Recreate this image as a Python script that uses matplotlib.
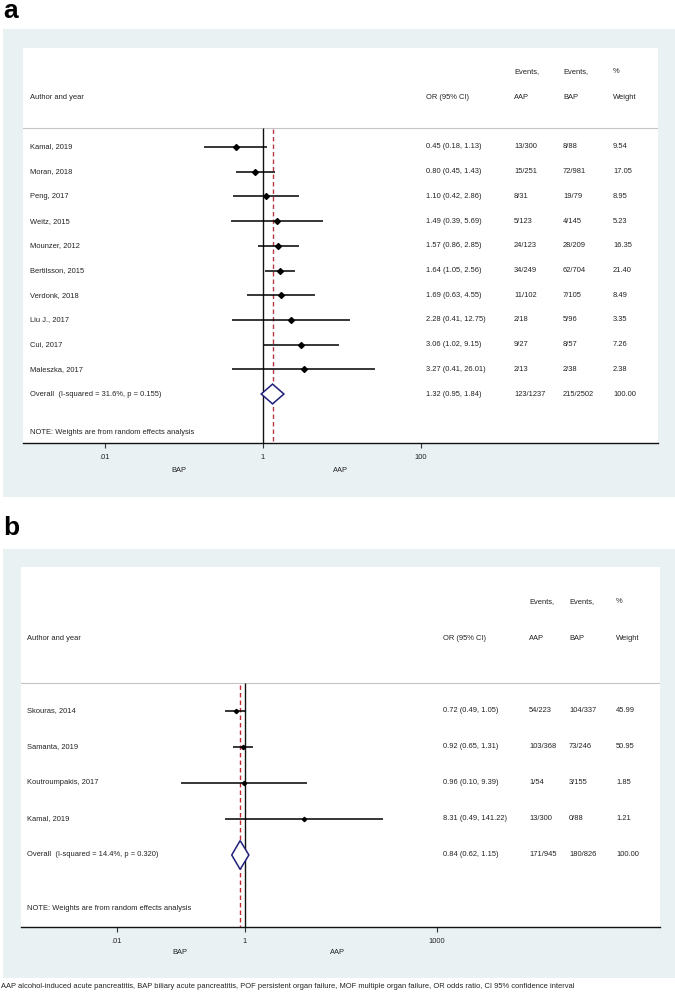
import matplotlib
matplotlib.use("Agg")
import matplotlib.pyplot as plt
import matplotlib.transforms as mtransforms
from matplotlib.patches import Rectangle, Polygon

plt.rcParams['font.family'] = ['Liberation Sans', 'DejaVu Sans']

# ---- panel a data ----
studies_a = ["Kamal, 2019", "Moran, 2018", "Peng, 2017", "Weitz, 2015", "Mounzer, 2012",
             "Bertilsson, 2015", "Verdonk, 2018", "Liu J., 2017", "Cui, 2017", "Maleszka, 2017"]
or_a = [0.45, 0.80, 1.10, 1.49, 1.57, 1.64, 1.69, 2.28, 3.06, 3.27]
lo_a = [0.18, 0.45, 0.42, 0.39, 0.86, 1.05, 0.63, 0.41, 1.02, 0.41]
hi_a = [1.13, 1.43, 2.86, 5.69, 2.85, 2.56, 4.55, 12.75, 9.15, 26.01]
ev_aap_a = ["13/300", "15/251", "8/31", "5/123", "24/123", "34/249", "11/102", "2/18", "9/27", "2/13"]
ev_bap_a = ["8/88", "72/981", "19/79", "4/145", "28/209", "62/704", "7/105", "5/96", "8/57", "2/38"]
weight_a = ["9.54", "17.05", "8.95", "5.23", "16.35", "21.40", "8.49", "3.35", "7.26", "2.38"]
overall_a = (1.32, 0.95, 1.84)
overall_lbl_a = "Overall  (I-squared = 31.6%, p = 0.155)"
overall_ev_a = ("123/1237", "215/2502", "100.00")
ticks_a = [0.01, 1, 100]
ticklbl_a = [".01", "1", "100"]

# ---- panel b data ----
studies_b = ["Skouras, 2014", "Samanta, 2019", "Koutroumpakis, 2017", "Kamal, 2019"]
or_b = [0.72, 0.92, 0.96, 8.31]
lo_b = [0.49, 0.65, 0.10, 0.49]
hi_b = [1.05, 1.31, 9.39, 141.22]
ev_aap_b = ["54/223", "103/368", "1/54", "13/300"]
ev_bap_b = ["104/337", "73/246", "3/155", "0/88"]
weight_b = ["45.99", "50.95", "1.85", "1.21"]
overall_b = (0.84, 0.62, 1.15)
overall_lbl_b = "Overall  (I-squared = 14.4%, p = 0.320)"
overall_ev_b = ("171/945", "180/826", "100.00")
ticks_b = [0.01, 1, 1000]
ticklbl_b = [".01", "1", "1000"]

note = "NOTE: Weights are from random effects analysis"
caption = ("AAP alcohol-induced acute pancreatitis, BAP biliary acute pancreatitis, "
           "POF persistent organ failure, MOF multiple organ failure, OR odds ratio, "
           "CI 95% confidence interval")

W, H = 675, 992
BG = "#e9f1f3"
FS = 5.4
TXT = "#222222"


def fx(px):
    return px / W


def fy(py):
    return 1 - py / H


fig = plt.figure(figsize=(W / 100, H / 100), dpi=100)
fig.patch.set_facecolor("white")


def panel(letter, letter_y, bg, box, one_px, ppd, row0, sp, cols, note_k, bap_aap,
          studies, ors, los, his, ev1, ev2, wts, overall, overall_lbl, overall_ev,
          ticks, ticklbls, red, ms):
    fig.text(fx(3), fy(letter_y), letter, fontsize=19, fontweight="bold",
             ha="left", va="baseline", color="black")
    fig.patches.append(Rectangle((fx(bg[0]), fy(bg[3])), (bg[2] - bg[0]) / W,
                                 (bg[3] - bg[1]) / H, transform=fig.transFigure,
                                 facecolor=BG, edgecolor="none", zorder=-5))
    x0, y0, x1, y1 = box
    ax = fig.add_axes([fx(x0), fy(y1), (x1 - x0) / W, (y1 - y0) / H])
    ax.set_facecolor("white")
    ax.set_xscale("log")
    ax.set_xlim(10 ** ((x0 - one_px) / ppd), 10 ** ((x1 - one_px) / ppd))
    k_top = (y0 - row0) / sp
    k_bot = (y1 - row0) / sp
    ax.set_ylim(k_bot, k_top)
    for s in ["top", "left", "right"]:
        ax.spines[s].set_visible(False)
    ax.spines["bottom"].set_linewidth(1.0)
    ax.spines["bottom"].set_color("#111111")
    ax.set_yticks([])
    ax.set_xticks(ticks)
    ax.set_xticklabels(ticklbls)
    ax.minorticks_off()
    ax.tick_params(axis="x", direction="out", length=3.6, width=0.8, color="#333333",
                   labelsize=FS, labelcolor=TXT, pad=4.5)

    line_k = -0.78
    ax.axhline(line_k, color="#c4c4c4", lw=0.8, zorder=1)
    ax.vlines(1, line_k, k_bot, color="#111111", lw=1.0, zorder=2)
    ax.vlines(overall[0], line_k + 0.05, k_bot, color=red, lw=1.0,
              linestyles=(0, (3.2, 2.2)), zorder=2)

    ks = list(range(len(studies)))
    ax.hlines(ks, los, his, color="black", lw=1.1, zorder=3)
    ax.plot(ors, ks, "D", ms=ms, color="black", zorder=4)

    ko = len(studies)
    est, lo, hi = overall
    ax.add_patch(Polygon([(lo, ko), (est, ko - 0.4), (hi, ko), (est, ko + 0.4)],
                         closed=True, facecolor="white", edgecolor="#1f1f7a",
                         lw=1.1, zorder=5))

    tr = mtransforms.blended_transform_factory(fig.transFigure, ax.transData)
    ca, co, c1, c2, cw = cols
    kw = dict(transform=tr, fontsize=FS, color=TXT, ha="left", va="center")
    ax.text(fx(ca), -2.0, "Author and year", **kw)
    ax.text(fx(co), -2.0, "OR (95% CI)", **kw)
    ax.text(fx(c1), -3.05, "Events,", **kw)
    ax.text(fx(c1), -2.0, "AAP", **kw)
    ax.text(fx(c2), -3.05, "Events,", **kw)
    ax.text(fx(c2), -2.0, "BAP", **kw)
    ax.text(fx(cw), -3.05, "%", **kw)
    ax.text(fx(cw), -2.0, "Weight", **kw)
    for k in ks:
        ax.text(fx(ca), k, studies[k], **kw)
        ax.text(fx(co), k, f"{ors[k]:.2f} ({los[k]:.2f}, {his[k]:.2f})", **kw)
        ax.text(fx(c1), k, ev1[k], **kw)
        ax.text(fx(c2), k, ev2[k], **kw)
        ax.text(fx(cw), k, wts[k], **kw)
    ax.text(fx(ca), ko, overall_lbl, **kw)
    ax.text(fx(co), ko, f"{est:.2f} ({lo:.2f}, {hi:.2f})", **kw)
    ax.text(fx(c1), ko, overall_ev[0], **kw)
    ax.text(fx(c2), ko, overall_ev[1], **kw)
    ax.text(fx(cw), ko, overall_ev[2], **kw)
    ax.text(fx(ca), note_k, note, **kw)

    bx, ax_, by = bap_aap
    fig.text(fx(bx), fy(by), "BAP", fontsize=FS, color=TXT, ha="center", va="center")
    fig.text(fx(ax_), fy(by), "AAP", fontsize=FS, color=TXT, ha="center", va="center")
    return ax


panel("a", 18, (3, 29, 675, 497), (23, 48, 658, 443), 263, 79, 147, 24.7,
      (30, 426, 514, 563, 613), 11.54, (179, 340, 471),
      studies_a, or_a, lo_a, hi_a, ev_aap_a, ev_bap_a, weight_a,
      overall_a, overall_lbl_a, overall_ev_a, ticks_a, ticklbl_a, "#b33a44", 3.0)

panel("b", 535, (3, 549, 675, 978), (21, 567, 660, 927), 245, 64, 711, 36,
      (27, 443, 529, 569, 616), 5.5, (180, 337, 952),
      studies_b, or_b, lo_b, hi_b, ev_aap_b, ev_bap_b, weight_b,
      overall_b, overall_lbl_b, overall_ev_b, ticks_b, ticklbl_b, "#c42a32", 2.2)

fig.text(fx(1), fy(987), caption, fontsize=5.4, color=TXT, ha="left", va="center")

fig.savefig("out.png", dpi=100)
